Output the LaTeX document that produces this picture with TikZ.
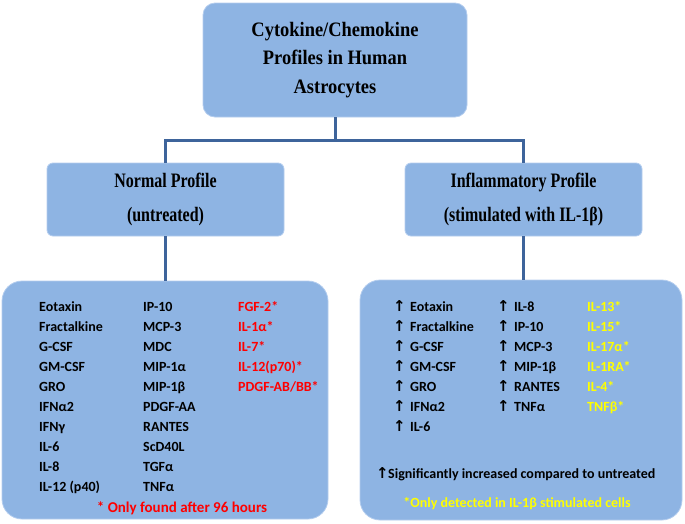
\documentclass[tikz,border=0pt]{standalone}
\usepackage{fontspec}
\setmainfont{Carlito}
\newfontfamily\headA{Liberation Serif}[FakeStretch=0.9, UprightFont={* Bold}, BoldFont={* Bold}]
\newfontfamily\headB{Liberation Serif}[FakeStretch=0.78, UprightFont={* Bold}, BoldFont={* Bold}]
\newfontfamily\arrowfont{DejaVu Sans}
\definecolor{boxfill}{RGB}{142,180,227}
\definecolor{conncol}{RGB}{62,100,155}
\definecolor{edgecol}{RGB}{180,205,238}
\definecolor{redtxt}{RGB}{255,0,0}
\definecolor{yeltxt}{RGB}{255,255,0}
\tikzset{
  bluebox/.style={draw=edgecol, line width=0.8pt, fill=boxfill, align=center, inner sep=0pt},
  conn/.style={draw=conncol, line width=3pt},
  item/.style={anchor=base west, inner sep=0pt, font=\bfseries\fontsize{14}{16}\selectfont},
  uparrow/.style={anchor=base west, inner sep=0pt, font=\arrowfont\bfseries\fontsize{15}{17}\selectfont},
}
\begin{document}
\begin{tikzpicture}[x=1pt,y=-1pt]
\useasboundingbox (0,0) rectangle (685,523);
% boxes
\node[bluebox, rounded corners=12pt, minimum width=264pt, minimum height=114pt,
      font=\headA\fontsize{20.5}{28.5}\selectfont] (top) at (335,60)
      {Cytokine/Chemokine\\Profiles in Human\\Astrocytes};
\node[bluebox, rounded corners=6pt, minimum width=237pt, minimum height=73pt,
      font=\headB\fontsize{20.5}{34}\selectfont] (normal) at (165.5,199.5)
      {Normal Profile\\(untreated)};
\node[bluebox, rounded corners=6pt, minimum width=237pt, minimum height=73pt,
      font=\headB\fontsize{20.5}{34}\selectfont] (inflam) at (523.5,199.5)
      {Inflammatory Profile\\(stimulated with IL-1β)};
\node[bluebox, rounded corners=20pt, minimum width=326pt, minimum height=238pt] (left) at (165,400) {};
\node[bluebox, rounded corners=20pt, minimum width=322pt, minimum height=240pt] (right) at (521,400) {};
% connectors
\coordinate (j) at (335,140);
\draw[conn] (top.south) -- (j);
\draw[conn] (normal.north) |- (j);
\draw[conn] (inflam.north) |- (j);
\draw[conn] (normal.south) -- (normal.south |- left.north);
\draw[conn] (inflam.south) -- (inflam.south |- right.north);
% left box items
\foreach \t [count=\i] in {Eotaxin, Fractalkine, G-CSF, GM-CSF, GRO, IFNα2, IFNγ, IL-6, IL-8, IL-12 (p40)}
  \node[item] (la\i) at (39,{291+20*\i}) {\t};
\foreach \t [count=\i] in {IP-10, MCP-3, MDC, MIP-1α, MIP-1β, PDGF-AA, RANTES, ScD40L, TGFα, TNFα}
  \node[item] (lb\i) at (143,{291+20*\i}) {\t};
\foreach \t [count=\i] in {FGF-2*, IL-1α*, IL-7*, IL-12(p70)*, PDGF-AB/BB*}
  \node[item, text=redtxt] (lc\i) at (238,{291+20*\i}) {\t};
\node[item, anchor=base, text=redtxt, font=\bfseries\fontsize{15}{17}\selectfont] (lnote) at (182,512) {* Only found after 96 hours};
% right box items
\foreach \t [count=\i] in {Eotaxin, Fractalkine, G-CSF, GM-CSF, GRO, IFNα2, IL-6} {
  \node[uparrow] (rau\i) at (393,{291+20*\i}) {↑};
  \node[item] (ra\i) at (410,{291+20*\i}) {\t};
}
\foreach \t [count=\i] in {IL-8, IP-10, MCP-3, MIP-1β, RANTES, TNFα} {
  \node[uparrow] (rbu\i) at (497,{291+20*\i}) {↑};
  \node[item] (rb\i) at (514,{291+20*\i}) {\t};
}
\foreach \t [count=\i] in {IL-13*, IL-15*, IL-17α*, IL-1RA*, IL-4*, TNFβ*}
  \node[item, text=yeltxt] (rc\i) at (587,{291+20*\i}) {\t};
\node[uparrow] (rnu) at (376,478.5) {↑};
\node[item] (rnote) at (388,478.5) {Significantly increased compared to untreated};
\node[item, anchor=base, text=yeltxt] (rnote2) at (517,507) {*Only detected in IL-1β stimulated cells};
\end{tikzpicture}
\end{document}
